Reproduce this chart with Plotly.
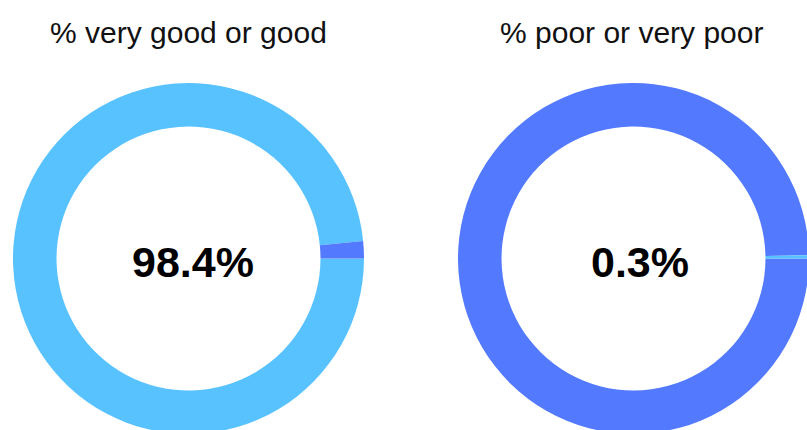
import plotly.graph_objects as go

# Share of responses per rating group
labels_good = ["Very good or good", "Other"]
values_good = [98.4, 1.6]
labels_poor = ["Other", "Poor or very poor"]
values_poor = [99.7, 0.3]

titles = ["% very good or good", "% poor or very poor"]
center_text = ["98.4%", "0.3%"]

LIGHT = "#58c2fe"
DARK = "#5279fe"

W, H = 830, 450
FONT = "Liberation Sans, Arial, sans-serif"

fig = go.Figure()

# Left donut: highlighted share in light blue, remainder in dark blue
fig.add_trace(go.Pie(
    labels=labels_good, values=values_good, hole=0.752,
    sort=False, direction="counterclockwise", rotation=90,
    marker=dict(colors=[LIGHT, DARK], line=dict(width=0)),
    textinfo="none", showlegend=False,
    domain=dict(x=[13 / W, 364 / W], y=[1 - 434 / H, 1 - 83 / H]),
))

# Right donut: highlighted share in light blue, remainder in dark blue
fig.add_trace(go.Pie(
    labels=labels_poor, values=values_poor, hole=0.752,
    sort=False, direction="counterclockwise", rotation=90,
    marker=dict(colors=[DARK, LIGHT], line=dict(width=0)),
    textinfo="none", showlegend=False,
    domain=dict(x=[458 / W, 809 / W], y=[1 - 434 / H, 1 - 83 / H]),
))

title_x = [188 / W, 631 / W]
label_x = [193 / W, 640 / W]
for tx, lx, title, txt in zip(title_x, label_x, titles, center_text):
    fig.add_annotation(
        x=tx, y=1 - 32 / H, xref="paper", yref="paper",
        text=title, showarrow=False,
        font=dict(family=FONT, size=30, color="#111111"),
        xanchor="center", yanchor="middle",
    )
    fig.add_annotation(
        x=lx, y=1 - 262 / H, xref="paper", yref="paper",
        text=f"<b>{txt}</b>", showarrow=False,
        font=dict(family=FONT, size=43, color="#000000"),
        xanchor="center", yanchor="middle",
    )

fig.update_layout(
    width=W, height=H,
    margin=dict(l=0, r=0, t=0, b=0),
    paper_bgcolor="white", plot_bgcolor="white",
)

fig.write_html("out.html")
